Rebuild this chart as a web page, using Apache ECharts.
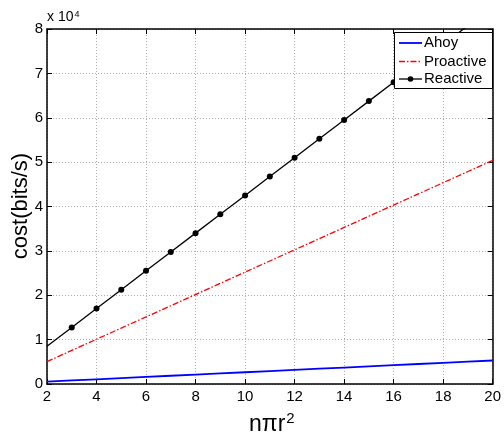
<!DOCTYPE html>
<html><head><meta charset="utf-8">
<script src="https://cdn.jsdelivr.net/npm/echarts@6/dist/echarts.min.js"></script>
<style>html,body{margin:0;padding:0;background:#fff}#c{width:504px;height:438px}</style>
</head><body><div id="c"></div>
<script>
var xValues = [2,3,4,5,6,7,8,9,10,11,12,13,14,15,16,17,18,19,20];
var ahoy = [530,795,1060,1325,1590,1855,2120,2385,2650,2915,3180,3445,3710,3975,4240,4505,4770,5035,5300];
var proactive = [5040,7560,10080,12600,15120,17640,20160,22680,25200,27720,30240,32760,35280,37800,40320,42840,45360,47880,50400];
var reactive = [8500,12750,17000,21250,25500,29750,34000,38250,42500,46750,51000,55250,59500,63750,68000,72250,76500,80750,85000];
var xTicks = [2,4,6,8,10,12,14,16,18,20];
var yTicks = [0,1,2,3,4,5,6,7,8];
var seriesNames = ['Ahoy','Proactive','Reactive'];
var seriesColors = ['#0000ff','#ff0000','#000000'];

function pairs(v){ return xValues.map(function(x,i){ return [x, v[i]]; }); }
var FONT = 'Liberation Sans, Arial, Helvetica, sans-serif';
var chart = echarts.init(document.getElementById('c'), null, {renderer:'canvas'});
var splitStyle = {show:true, lineStyle:{color:'#aaaaaa', type:[1,2], width:1}};
var lineStyles = [
  {color:seriesColors[0], width:1.8},
  {color:seriesColors[1], width:1.3, type:[6,2,1.5,2]},
  {color:seriesColors[2], width:1.3}
];

// manual legend box (MATLAB style)
var lg = {x:394, y:32, w:98, h:56, rows:[43, 61.5, 79]};
var legendGraphics = [{type:'rect', shape:{x:lg.x+0.5, y:lg.y+0.5, width:lg.w, height:lg.h},
  style:{fill:'#fff', stroke:'#000', lineWidth:1}, z:100}];
seriesNames.forEach(function(n,i){
  var y = lg.rows[i];
  legendGraphics.push({type:'line', shape:{x1:lg.x+5, y1:y, x2:lg.x+28, y2:y},
    style:{stroke:lineStyles[i].color, lineWidth:lineStyles[i].width, lineDash:lineStyles[i].type||null}, z:101});
  if (i===2) legendGraphics.push({type:'circle', shape:{cx:lg.x+16.5, cy:y, r:2.8}, style:{fill:'#000'}, z:102});
  legendGraphics.push({type:'text', x:lg.x+30, y:y, style:{text:n, fontSize:15, fontFamily:FONT, fill:'#000', verticalAlign:'middle'}, z:101});
});

function axisBase(extra){
  var a = {
    axisLine:{show:true, onZero:false, lineStyle:{color:'#000', width:1.5}},
    axisTick:{show:true, inside:true, length:5, lineStyle:{color:'#000'}},
    splitLine:{show:false}, axisLabel:{show:false}
  };
  for (var k in extra) a[k] = extra[k];
  return a;
}

var reactiveData = pairs(reactive).map(function(p,i){
  return i === 0 ? {value:p, symbol:'none'} : p;
});

chart.setOption({
  animation:false,
  textStyle:{fontFamily:FONT},
  grid:{left:47, right:11, top:29, bottom:54},
  xAxis:[axisBase({
    type:'value', min:xTicks[0], max:xTicks[xTicks.length-1], interval:2,
    axisLabel:{color:'#000', fontSize:15, margin:5, fontFamily:FONT},
    splitLine:splitStyle
  }), axisBase({type:'value', position:'top', min:xTicks[0], max:xTicks[xTicks.length-1], interval:2})],
  yAxis:[axisBase({
    type:'value', min:0, max:80000, interval:10000,
    axisLabel:{color:'#000', fontSize:15, margin:4, fontFamily:FONT,
      formatter:function(v){ return String(yTicks[Math.round(v/10000)]); }},
    splitLine:splitStyle
  }), axisBase({type:'value', position:'right', min:0, max:80000, interval:10000})],
  series:[
    {name:seriesNames[0], type:'line', data:pairs(ahoy), symbol:'none', lineStyle:lineStyles[0], clip:true},
    {name:seriesNames[1], type:'line', data:pairs(proactive), symbol:'none', lineStyle:lineStyles[1], clip:true},
    {name:seriesNames[2], type:'line', data:reactiveData, symbol:'circle', symbolSize:6,
     lineStyle:lineStyles[2], itemStyle:{color:'#000'}, clip:true}
  ],
  graphic:[
    {type:'text', x:47, y:10, style:{text:'{a|x 10}{b|4}', fill:'#000',
      rich:{a:{fontSize:14, fontFamily:FONT, fill:'#000'}, b:{fontSize:9, fontFamily:FONT, fill:'#000', verticalAlign:'top', padding:[0,0,6,1]}}}},
    {type:'text', x:249, y:411, style:{text:'{a|nπr}{b|2}', fill:'#000',
      rich:{a:{fontSize:23, fontFamily:FONT, fill:'#000'}, b:{fontSize:15, fontFamily:FONT, fill:'#000', verticalAlign:'top', padding:[0,0,12,1]}}}},
    {type:'text', x:21, y:206, rotation:Math.PI/2, style:{text:'cost(bits/s)', fontSize:22, fontFamily:FONT, fill:'#000', align:'center', verticalAlign:'middle'}}
  ].concat(legendGraphics)
});
</script></body></html>
